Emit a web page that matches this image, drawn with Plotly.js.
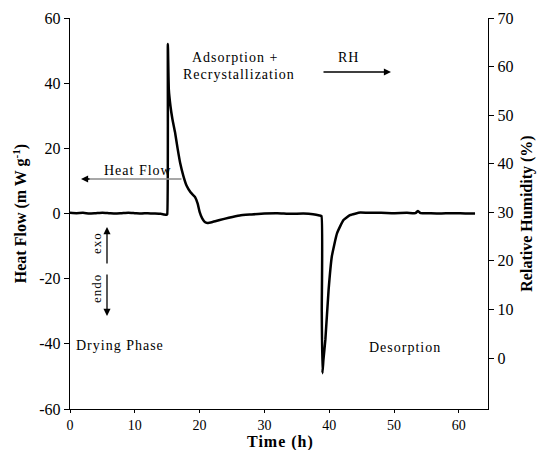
<!DOCTYPE html>
<html>
<head>
<meta charset="utf-8">
<script src="https://cdn.plot.ly/plotly-3.0.1.min.js"></script>
<style>
html,body{margin:0;padding:0;background:#fff;}
#chart{width:541px;height:450px;}
text.annotation-text{letter-spacing:1px;}
</style>
</head>
<body>
<div id="chart"></div>
<script>
// Time (h)
var timeH = [0, 1, 2, 3, 4, 5, 6, 7, 8, 9, 10, 11, 12, 13, 14, 14.5, 14.9, 15.0, 15.1, 15.25, 15.5, 15.8, 16.2, 16.6, 17.0, 17.5, 18.0, 18.6, 19.3, 19.7, 20.0, 20.4, 20.8, 21.2, 22.0, 23.1, 24.5, 26.2, 28, 30, 32, 34, 36, 37.5, 38.5, 38.8, 38.85, 38.95, 39.1, 39.4, 39.9, 40.4, 41.2, 42.2, 43.2, 44.8, 46, 48, 50, 52, 53.3, 53.7, 54.1, 55, 57, 59, 61, 62.5];
// Heat flow (mW/g)
var heatFlow = [0.2, 0.1, 0.2, 0.0, 0.1, 0.2, 0.1, 0.0, 0.1, 0.2, 0.1, 0.0, 0.1, 0.0, -0.1, -0.3, -0.4, -0.2, 52, 38, 33, 29, 25, 20, 15.5, 11.5, 8.5, 6.5, 5.0, 3.0, 0.5, -1.5, -2.6, -2.9, -2.6, -2.0, -1.3, -0.6, -0.3, 0.0, 0.1, -0.1, 0.0, -0.2, -0.6, -0.8, -30, -49, -45, -38.8, -23.5, -13.2, -6.1, -2.0, -0.5, 0.3, 0.2, 0.2, 0.1, 0.2, 0.1, 0.8, 0.1, 0.1, 0.0, 0.1, 0.0, 0.0];

// Tick values / labels
var xTickVals = [0, 10, 20, 30, 40, 50, 60];
var xTickText = ['0', '10', '20', '30', '40', '50', '60'];
var yTickVals = [-60, -40, -20, 0, 20, 40, 60];
var yTickText = ['-60', '-40', '-20', '0', '20', '40', '60'];
var y2TickVals = [0, 10, 20, 30, 40, 50, 60, 70];
var y2TickText = ['0', '10', '20', '30', '40', '50', '60', '70'];

var serif = 'Liberation Serif, Times New Roman, serif';

var traces = [{
  x: timeH, y: heatFlow, type: 'scatter', mode: 'lines',
  line: {color: '#000', width: 2.5, shape: 'spline', smoothing: 0.4},
  hoverinfo: 'skip', showlegend: false
}, {
  x: [], y: [], yaxis: 'y2', type: 'scatter', mode: 'lines',
  hoverinfo: 'skip', showlegend: false
}];

function px(xp) { return (xp - 70) / 418; }
function py(yp) { return (409 - yp) / 391; }
function label(x, y, text, extra) {
  var a = {xref: 'paper', yref: 'paper', x: px(x), y: py(y), text: text, showarrow: false,
    xanchor: 'center', yanchor: 'middle', font: {family: serif, size: 14, color: '#000'}};
  for (var k in extra) a[k] = extra[k];
  return a;
}
function arrow(x, y, ax, ay, color) {
  return {xref: 'paper', yref: 'paper', x: px(x), y: py(y), ax: ax, ay: ay, text: '',
    showarrow: true, arrowhead: 2, arrowsize: 1.1, arrowwidth: 1.3, arrowcolor: color};
}

var annotations = [
  label(235, 57, 'Adsorption +'),
  label(239, 75, 'Recrystallization'),
  label(348, 57, 'RH'),
  arrow(391, 72, -69, 0, '#000'),
  label(138, 171, 'Heat Flow'),
  {xref: 'paper', yref: 'paper', x: px(88), y: py(179), ax: 95, ay: 0, text: '',
    showarrow: true, arrowhead: 0, arrowwidth: 1.3, arrowcolor: '#8a8a8a'},
  arrow(81, 179, 10, 0, '#000'),
  label(96, 243, 'exo', {textangle: -90, font: {family: serif, size: 13, color: '#000'}}),
  arrow(107, 227, 0, 38, '#000'),
  label(96, 289, 'endo', {textangle: -90, font: {family: serif, size: 13, color: '#000'}}),
  arrow(107, 316, 0, -43, '#000'),
  label(120, 345, 'Drying Phase'),
  label(405, 347, 'Desorption'),
  {xref: 'paper', yref: 'paper', x: px(280), y: py(442), text: '<b>Time (h)</b>', showarrow: false,
    xanchor: 'center', yanchor: 'middle', borderpad: 0, font: {family: serif, size: 16, color: '#000'}}
];

var axisCommon = {
  showgrid: false, zeroline: false, showline: true, linecolor: '#000', linewidth: 1.2,
  ticks: 'outside', ticklen: 5, tickcolor: '#000', tickwidth: 1,
  tickfont: {family: serif, size: 16, color: '#000'}
};
function ax(extra) { var o = {}; for (var k in axisCommon) o[k] = axisCommon[k]; for (var k2 in extra) o[k2] = extra[k2]; return o; }

var layout = {
  width: 541, height: 450,
  margin: {l: 70, r: 53, t: 18, b: 41},
  paper_bgcolor: '#fff', plot_bgcolor: '#fff',
  font: {family: serif, color: '#000', size: 14},
  xaxis: ax({
    range: [0, 64.5], tickmode: 'array', tickvals: xTickVals, ticktext: xTickText, ticklen: 3,
    tickfont: {family: serif, size: 14, color: '#000'}
  }),
  yaxis: ax({
    range: [-60, 60], tickmode: 'array', tickvals: yTickVals, ticktext: yTickText,
    title: {text: '<b>Heat Flow (m W g<sup>-1</sup>)</b>', font: {family: serif, size: 16, color: '#000'}, standoff: 8}
  }),
  yaxis2: ax({
    overlaying: 'y', side: 'right', anchor: 'x',
    range: [-10.5, 70], tickmode: 'array', tickvals: y2TickVals, ticktext: y2TickText,
    title: {text: '<b>Relative Humidity (%)</b>', font: {family: serif, size: 16, color: '#000'}, standoff: 8}
  }),
  annotations: annotations
};

Plotly.newPlot('chart', traces, layout, {staticPlot: true, displayModeBar: false});
</script>
</body>
</html>
